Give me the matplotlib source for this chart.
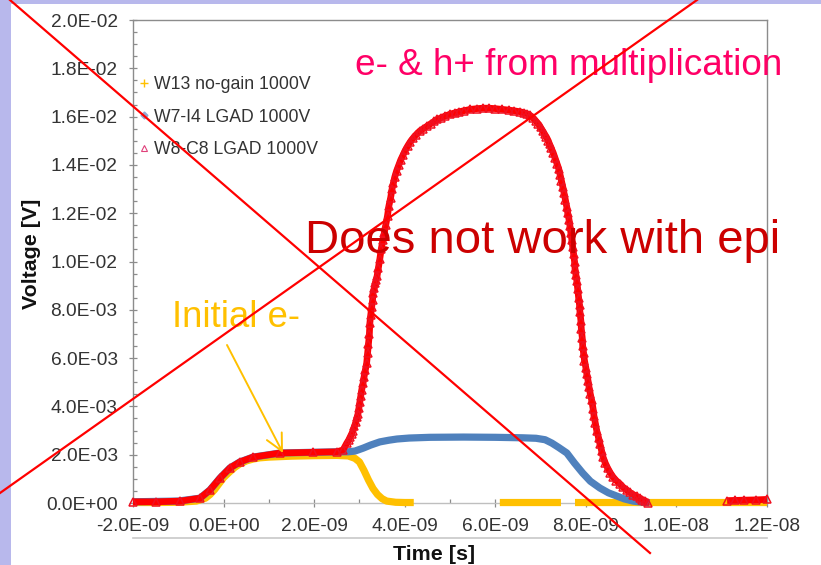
import numpy as np
import matplotlib
matplotlib.use("Agg")
import matplotlib.pyplot as plt
from matplotlib.lines import Line2D
from matplotlib.patches import Rectangle
from matplotlib.ticker import MultipleLocator, FuncFormatter

plt.rcParams['font.family'] = ['Liberation Sans', 'DejaVu Sans']

# ---- measured signals (time in ns, amplitude in mV) ----
# W13 no-gain 1000V
t_w13 = [-2.0, -1.5, -1.0, -0.6, -0.4, -0.3, -0.2, -0.08, 0.0, 0.14, 0.25, 0.36,
         0.5, 0.65, 0.8, 1.0, 1.5, 2.0, 2.5, 2.75, 2.9, 3.0, 3.1, 3.2, 3.3, 3.4,
         3.5, 3.6, 3.8, 4.0, 4.2, 4.25, 6.05, 6.1, 7.45, 7.5, 7.72, 7.76, 12.0]
v_w13 = [0.02, 0.02, 0.03, 0.08, 0.2, 0.35, 0.55, 0.85, 1.05, 1.3, 1.48, 1.62,
         1.74, 1.82, 1.87, 1.9, 1.94, 1.96, 1.97, 1.95, 1.85, 1.7, 1.35, 0.95, 0.6, 0.35,
         0.18, 0.08, 0.03, 0.02, 0.02, -0.05, -0.05, 0.02, 0.02, -0.05, -0.05, 0.02, 0.02]

# W7-I4 LGAD 1000V
t_w7 = [-2.0, -1.0, -0.52, -0.3, -0.08, 0.14, 0.36, 0.65, 1.25, 2.0, 2.5, 2.75,
        2.9, 3.08, 3.25, 3.45, 3.65, 3.83, 4.1, 4.56, 5.3, 6.0, 6.6, 6.9, 7.1,
        7.25, 7.4, 7.58, 7.75, 7.93, 8.1, 8.31, 8.5, 8.68, 8.85, 9.04, 9.25, 9.41,
        9.45, 12.0]
v_w7 = [0.05, 0.08, 0.2, 0.54, 1.03, 1.45, 1.7, 1.9, 2.07, 2.1, 2.12, 2.12,
        2.15, 2.27, 2.4, 2.53, 2.6, 2.65, 2.69, 2.72, 2.73, 2.72, 2.7, 2.68, 2.62,
        2.48, 2.3, 2.07, 1.65, 1.24, 0.9, 0.62, 0.42, 0.29, 0.17, 0.08, 0.03, 0.0,
        -0.05, -0.05]

# W8-C8 LGAD 1000V
t_w8 = [-2.0, -1.5, -0.96, -0.52, -0.3, -0.08, 0.14, 0.36, 0.65, 1.25, 1.97, 2.5,
        2.64, 2.72, 2.76, 2.8, 2.83, 2.86, 2.89, 2.92, 2.95, 2.97, 2.99, 3.01, 3.03,
        3.05, 3.08, 3.1, 3.13, 3.16, 3.18, 3.2, 3.22, 3.23, 3.25, 3.27, 3.29,
        3.3, 3.33, 3.35, 3.37, 3.39, 3.42, 3.45, 3.48, 3.52, 3.55, 3.58, 3.62,
        3.65, 3.69, 3.72, 3.75, 3.78, 3.82, 3.87, 3.91, 3.96, 4.01, 4.07, 4.12,
        4.18, 4.25, 4.33, 4.41, 4.49, 4.57, 4.65, 4.72, 4.8, 4.9, 5.0, 5.1, 5.2,
        5.32, 5.45, 5.6, 5.73, 5.86, 6.0, 6.15, 6.3, 6.42, 6.55, 6.63, 6.7, 6.77,
        6.83, 6.89, 6.95, 7.0, 7.05, 7.09, 7.13, 7.17, 7.2, 7.24, 7.28, 7.32, 7.36,
        7.4, 7.43, 7.46, 7.49, 7.52, 7.55, 7.58, 7.6, 7.63, 7.65, 7.67, 7.69, 7.71,
        7.73, 7.75, 7.76, 7.78, 7.8, 7.82, 7.84, 7.86, 7.87, 7.89, 7.9, 7.92, 7.93,
        7.95, 7.97, 8.0, 8.02, 8.05, 8.07, 8.1, 8.13, 8.16, 8.18, 8.21, 8.24, 8.28,
        8.31, 8.35, 8.38, 8.43, 8.48, 8.54, 8.6, 8.67, 8.75, 8.82, 8.9, 8.97, 9.05,
        9.12, 9.19, 9.25, 9.3, 9.37, 9.42, 11.08, 11.12, 11.3, 11.5, 11.75, 12.0]
v_w8 = [0.05, 0.05, 0.08, 0.2, 0.54, 1.03, 1.45, 1.7, 1.9, 2.07, 2.1, 2.12,
        2.2, 2.48, 2.6, 2.75, 2.87, 3.0, 3.17, 3.35, 3.55, 3.7, 3.95, 4.2, 4.45,
        4.68, 4.95, 5.2, 5.5, 5.8, 6.2, 6.6, 7.0, 7.45, 7.8, 8.1, 8.4,
        8.7, 8.9, 9.1, 9.25, 9.4, 9.75, 10.1, 10.5, 10.9, 11.2, 11.5, 11.9,
        12.3, 12.65, 13.0, 13.25, 13.5, 13.75, 14.0, 14.2, 14.4, 14.6, 14.8, 14.95,
        15.1, 15.25, 15.4, 15.5, 15.6, 15.7, 15.8, 15.88, 15.95, 16.03, 16.1, 16.15, 16.2,
        16.25, 16.3, 16.33, 16.35, 16.35, 16.33, 16.3, 16.27, 16.24, 16.2, 16.16, 16.12, 16.05,
        15.95, 15.83, 15.7, 15.55, 15.4, 15.27, 15.15, 15.0, 14.85, 14.68, 14.5, 14.28, 14.05,
        13.85, 13.6, 13.35, 13.1, 12.82, 12.55, 12.25, 12.0, 11.72, 11.45, 11.18, 10.9, 10.6,
        10.3, 10.0, 9.7, 9.45, 9.2, 8.85, 8.5, 8.2, 7.9, 7.55, 7.2, 6.85, 6.5,
        6.2, 5.9, 5.6, 5.35, 5.05, 4.8, 4.5, 4.25, 3.9, 3.6, 3.3, 3.0, 2.7,
        2.45, 2.15, 1.9, 1.65, 1.45, 1.25, 1.08, 0.93, 0.8, 0.66, 0.54, 0.44, 0.35,
        0.27, 0.2, 0.14, 0.1, 0.02, -0.05, -0.05, 0.1, 0.11, 0.12, 0.13, 0.15]

labels = ["W13 no-gain 1000V", "W7-I4 LGAD 1000V", "W8-C8 LGAD 1000V"]
x_min, x_max, x_step = -2e-9, 12e-9, 2e-9
y_min, y_max, y_step = 0.0, 0.02, 2e-3

W, H = 821, 565
fig = plt.figure(figsize=(W / 100, H / 100), dpi=100)
fig.patch.set_facecolor('white')


def fx(px):
    return px / W


def fy(py):
    return 1 - py / H


# slide decoration
fig.add_artist(Rectangle((0, 0), fx(11), 1, transform=fig.transFigure,
                         facecolor='#B8B8EC', edgecolor='none', zorder=0))
fig.add_artist(Rectangle((0, fy(4)), 1, 4 / H, transform=fig.transFigure,
                         facecolor='#B8B8EC', edgecolor='none', zorder=0))

ax = fig.add_axes([fx(133), fy(503), fx(767) - fx(133), fy(20) - fy(503)])
ax.set_xlim(x_min, x_max)
ax.set_ylim(y_min, y_max)


def on_scale(t_ns, v_mv):
    """Convert to SI units and hide samples that fall below the axis minimum."""
    t = np.asarray(t_ns, float) * 1e-9
    v = np.asarray(v_mv, float) * 1e-3
    return t, np.where(v < y_min, np.nan, v)


t, v = on_scale(t_w13, v_w13)
ax.plot(t, v, color='#FFC000', lw=5.2, solid_capstyle='butt', clip_on=False, zorder=3)
t, v = on_scale(t_w7, v_w7)
ax.plot(t, v, color='#4F81BD', lw=5.2, solid_capstyle='butt', clip_on=False, zorder=4)
t, v = on_scale(t_w8, v_w8)
ax.plot(t, v, color='#FF0000', lw=4.8, solid_capstyle='butt', clip_on=False, zorder=5)
ax.plot(t, v, ls='none', marker='^', ms=5.5, mfc='none', mec='#F01020', mew=1.1,
        clip_on=False, zorder=5)

# axes styling
ax.xaxis.set_major_locator(MultipleLocator(x_step))
ax.xaxis.set_minor_locator(MultipleLocator(x_step / 2))
ax.yaxis.set_major_locator(MultipleLocator(y_step))
ax.yaxis.set_minor_locator(MultipleLocator(y_step / 4))
sci = FuncFormatter(lambda val, pos: f"{val:.1E}")
ax.xaxis.set_major_formatter(sci)
ax.yaxis.set_major_formatter(sci)
ax.tick_params(which='major', direction='inout', length=6, width=0.9,
               color='#8C8C8C', labelsize=13.8, labelcolor='#333333', pad=8)
ax.tick_params(which='minor', direction='in', length=3, width=0.9, color='#8C8C8C')
for side in ['left', 'top', 'right']:
    ax.spines[side].set_color('#8C8C8C')
    ax.spines[side].set_linewidth(1.0)
ax.spines['bottom'].set_color('#BFBFBF')
ax.spines['bottom'].set_linewidth(1.0)

ax.set_ylabel('Voltage [V]', fontsize=15.4, fontweight='bold', color='#111111')
ax.yaxis.label.set_va('center')
ax.yaxis.set_label_coords((31 - 133) / 634, (503 - 254) / 483)
ax.set_xlabel('Time [s]', fontsize=15.4, fontweight='bold', color='#111111')
ax.xaxis.label.set_va('center')
ax.xaxis.set_label_coords((434 - 133) / 634, (503 - 554) / 483)

# chart frame line below the tick labels
fig.add_artist(Line2D([fx(133), fx(767)], [fy(538), fy(538)], color='#C8C8C8', lw=1.2))

handles = [
    Line2D([], [], ls='none', marker='+', color='#FFC000', ms=6, mew=1.0),
    Line2D([], [], ls='none', marker='D', color='#8FA9D6', ms=3.5),
    Line2D([], [], ls='none', marker='^', mfc='none', mec='#E0407A', ms=4, mew=0.8),
]
ax.legend(handles, labels, loc='upper left', bbox_to_anchor=(0.009, 0.884),
          frameon=False, fontsize=12.7, handlelength=0.6, handletextpad=0.25,
          labelspacing=0.88, borderpad=0, borderaxespad=0, labelcolor='#333333')

# annotations
fig.text(fx(355), fy(75), 'e- & h+ from multiplication', fontsize=26.6,
         color='#FF0066', va='baseline', ha='left', zorder=6)
fig.text(fx(305), fy(253), 'Does not work with epi', fontsize=34,
         color='#CC0000', va='baseline', ha='left', zorder=6)
fig.text(fx(172), fy(327), 'Initial e-', fontsize=26.3,
         color='#FFC000', va='baseline', ha='left', zorder=6)
ax.annotate('', xy=(283, H - 453), xycoords='figure pixels',
            xytext=(227, H - 345), textcoords='figure pixels',
            arrowprops=dict(arrowstyle='->,head_length=0.4,head_width=0.2',
                            color='#FFC000', lw=1.4, mutation_scale=30,
                            shrinkA=0, shrinkB=0),
            annotation_clip=False, zorder=7)

# cross-out lines
fig.add_artist(Line2D([fx(10), fx(650)], [fy(0), fy(553)], color='#FF0000', lw=1.6, zorder=10))
fig.add_artist(Line2D([fx(0), fx(697)], [fy(493), fy(0)], color='#FF0000', lw=1.6, zorder=10))

fig.savefig('out.png', dpi=100)
